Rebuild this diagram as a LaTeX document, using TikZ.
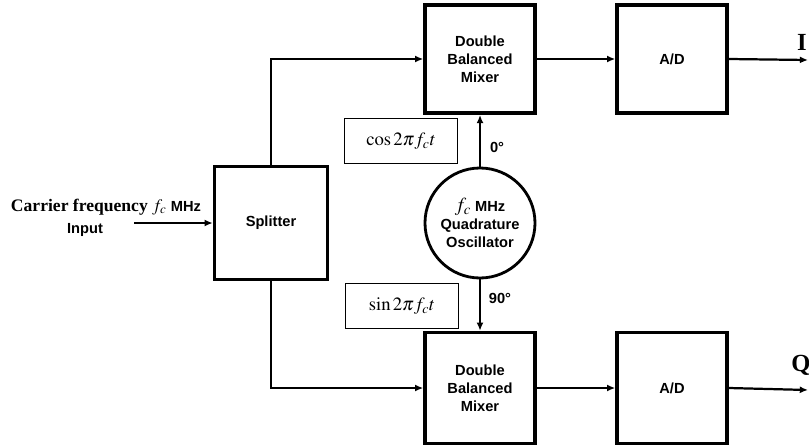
\documentclass[tikz,border=0pt]{standalone}
\usepackage{mathptmx}
\usepackage{fontspec}
\setmainfont{Liberation Serif}
\setsansfont{Liberation Sans}
\usetikzlibrary{arrows.meta, positioning}

\tikzset{
  blk/.style={draw, line width=3pt, minimum width=3.3cm, minimum height=3.25cm,
              align=center, font=\sffamily\bfseries\fontsize{12.5}{15.3}\selectfont},
  sig/.style={draw, line width=0.9pt, minimum width=3.4cm, minimum height=1.35cm,
              inner sep=0pt, font=\fontsize{16}{19}\selectfont},
  wire/.style={line width=1.9pt},
  lbl/.style={font=\sffamily\bfseries\fontsize{12.5}{15}\selectfont},
}

\begin{document}
\begin{tikzpicture}[x=0.03cm, y=-0.03cm, >={Latex[length=7pt,width=6pt]}]
  \useasboundingbox (0,0) rectangle (809,446);
  % blocks
  \node[blk, minimum width=3.39cm, minimum height=3.39cm] (split) at (271,223) {Splitter};
  \node[blk] (mixI) at (480,59) {Double\\Balanced\\Mixer};
  \node[blk] (adI)  at (672,59) {A/D};
  \node[blk, minimum height=3.33cm] (mixQ) at (480,388) {Double\\Balanced\\Mixer};
  \node[blk, minimum height=3.33cm] (adQ)  at (672,388) {A/D};
  % oscillator
  \node[circle, draw, line width=2.4pt, minimum size=3.3cm, inner sep=0pt, align=center,
        font=\sffamily\bfseries\fontsize{12.5}{15.3}\selectfont] (osc) at (480,223)
        {{\normalfont\fontsize{17}{17}\selectfont$f_c$} MHz\\Quadrature\\Oscillator};
  \node[sig] (cosb) at (401,141) {$\cos 2\pi f_c t$};
  \node[sig] (sinb) at (402,306) {$\sin 2\pi f_c t$};
  \node[lbl] (ph0)  at (497,147) {0°};
  \node[lbl] (ph90) at (500,298) {90°};
  % input side
  \node[font=\bfseries\fontsize{15}{18}\selectfont] (carrier) at (106,207)
        {Carrier frequency $f_c$ {\sffamily\fontsize{12.5}{15}\selectfont MHz}};
  \node[lbl] (inlbl) at (85,230) {Input};
  \coordinate (src) at (134,223);
  \coordinate (outI) at (808,60);
  \coordinate (outQ) at (808,390);
  \node[font=\bfseries\fontsize{21}{24}\selectfont] (ilbl) at (802,42) {I};
  \node[font=\bfseries\fontsize{21}{24}\selectfont] (qlbl) at (801,365) {Q};
  % connectors
  \draw[wire,->] (src) -- (split.west);
  \draw[wire,->] (split.north) |- (mixI.west);
  \draw[wire,->] (split.south) |- (mixQ.west);
  \draw[wire,->] (mixI) -- (adI);
  \draw[wire,->] (mixQ) -- (adQ);
  \draw[wire,->] (adI.east) -- (outI);
  \draw[wire,->] (adQ.east) -- (outQ);
  \draw[line width=1.5pt,->] (osc.north) -- (mixI.south);
  \draw[line width=1.5pt,->] (osc.south) -- (mixQ.north);
\end{tikzpicture}
\end{document}
